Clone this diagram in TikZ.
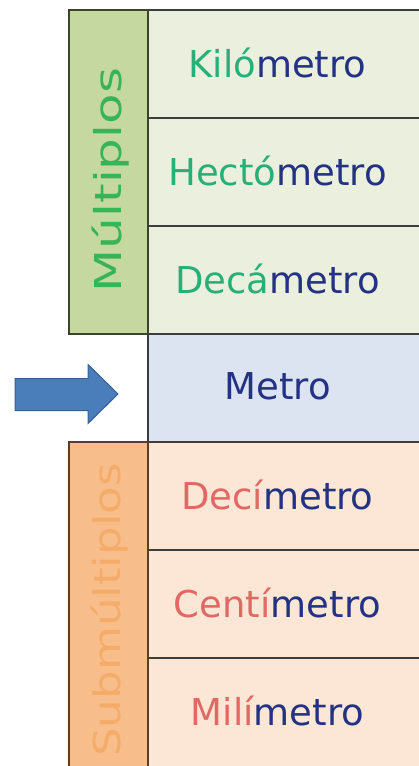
\documentclass[tikz,border=0pt]{standalone}
\usepackage{fontspec}
\setmainfont{DejaVu Sans}
\usepackage{graphicx}
\usetikzlibrary{positioning}
\definecolor{multfill}{RGB}{197,216,160}
\definecolor{multline}{RGB}{60,68,42}
\definecolor{multword}{RGB}{55,180,85}
\definecolor{multcell}{RGB}{235,240,222}
\definecolor{metrocell}{RGB}{220,228,242}
\definecolor{subcell}{RGB}{252,230,214}
\definecolor{subfill}{RGB}{247,190,140}
\definecolor{subline}{RGB}{90,60,40}
\definecolor{subword}{RGB}{245,172,105}
\definecolor{cellline}{RGB}{60,60,60}
\definecolor{greenpref}{RGB}{40,175,120}
\definecolor{redpref}{RGB}{225,105,100}
\definecolor{unitblue}{RGB}{35,50,130}
\definecolor{arrowfill}{RGB}{74,126,187}
\definecolor{arrowline}{RGB}{55,95,150}

\begin{document}
\begin{tikzpicture}[x=1pt,y=1pt,node distance=0pt,
  cell/.style={draw=cellline,line width=1.3pt,minimum width=277pt,minimum height=108pt,inner sep=0pt,outer sep=0pt},
  side/.style={line width=1.3pt,minimum width=79pt,inner sep=0pt,outer sep=0pt,anchor=north west},
  unit/.style={font=\fontsize{37}{40}\selectfont,anchor=base},
  vtext/.style={font=\fontsize{37}{40}\selectfont,rotate=90,anchor=base}]
\useasboundingbox (0,0) rectangle (419,-766);
% cells of the scale
\node[cell,fill=multcell,anchor=north west](km) at (148,-10) {};
\node[cell,fill=multcell](hm)[below=of km]{};
\node[cell,fill=multcell](dam)[below=of hm]{};
\node[cell,fill=metrocell](m)[below=of dam]{};
\node[cell,fill=subcell](dm)[below=of m]{};
\node[cell,fill=subcell](cm)[below=of dm]{};
\node[cell,fill=subcell,minimum height=112pt](mm)[below=of cm]{};
% side boxes
\node[side,draw=multline,fill=multfill,minimum height=324pt](mult) at (69,-10) {};
\node[side,draw=subline,fill=subfill,minimum height=330pt](sub) at (69,-442) {};
\node[vtext,text=multword](multl) at (121,-180) {\scalebox{1.35}[1]{Múltiplos}};
\node[vtext,text=subword](subl) at (120,-610) {\scalebox{1.22}[1]{Submúltiplos}};
% names
\node[unit](tkm) at ([xshift=-9pt,yshift=-13pt]km.center) {\color{greenpref}Kiló\color{unitblue}metro};
\node[unit](thm) at ([xshift=-9pt,yshift=-13pt]hm.center) {\color{greenpref}Hectó\color{unitblue}metro};
\node[unit](tdam) at ([xshift=-9pt,yshift=-13pt]dam.center) {\color{greenpref}Decá\color{unitblue}metro};
\node[unit](tm) at ([xshift=-9pt,yshift=-11pt]m.center) {\color{unitblue}Metro};
\node[unit](tdm) at ([xshift=-9pt,yshift=-13pt]dm.center) {\color{redpref}Decí\color{unitblue}metro};
\node[unit](tcm) at ([xshift=-9pt,yshift=-13pt]cm.center) {\color{redpref}Centí\color{unitblue}metro};
\node[unit](tmm) at ([xshift=-9pt,yshift=-11pt]mm.center) {\color{redpref}Milí\color{unitblue}metro};
% arrow to the base unit
\coordinate (tip) at ([xshift=-30pt,yshift=-6pt]m.west);
\draw[draw=arrowline,fill=arrowfill,line width=1pt,line join=miter] (tip) -- ++(-30,29.5) -- ++(0,-14) -- ++(-73,0) -- ++(0,-32) -- ++(73,0) -- ++(0,-13) -- cycle;
\end{tikzpicture}
\end{document}
